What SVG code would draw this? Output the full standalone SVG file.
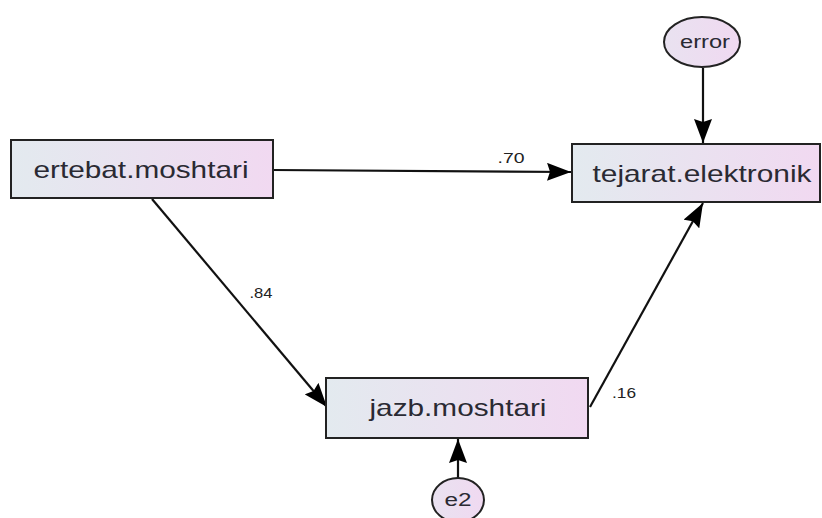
<svg xmlns="http://www.w3.org/2000/svg" width="822" height="518" viewBox="0 0 822 518">
<defs>
<linearGradient id="g" x1="0" y1="0" x2="1" y2="0">
<stop offset="0" stop-color="#e3eaef"/>
<stop offset="1" stop-color="#f1d9f1"/>
</linearGradient>
<linearGradient id="ge" x1="0" y1="0" x2="1" y2="0">
<stop offset="0" stop-color="#e9e2f0"/>
<stop offset="1" stop-color="#f0d9f1"/>
</linearGradient>
<marker id="b" viewBox="0 0 24 18" refX="24" refY="9" markerWidth="24" markerHeight="18" markerUnits="userSpaceOnUse" orient="auto">
<path d="M0,0 L24,9 L0,18 L3,9 z" fill="#000"/>
</marker>
<style>
.box{fill:url(#g);stroke:#222;stroke-width:2}
.ell{fill:url(#ge);stroke:#222;stroke-width:2}
.t{font-family:"Liberation Sans",Arial,sans-serif;font-size:24px;fill:#2a2a33;text-anchor:middle}
.te{font-family:"Liberation Sans",Arial,sans-serif;font-size:18px;fill:#2a2a33;text-anchor:middle}
.l{font-family:"Liberation Sans",Arial,sans-serif;font-size:14px;fill:#222;text-anchor:middle}
.c{stroke:#111;stroke-width:2.2;fill:none;marker-end:url(#b)}
</style>
</defs>
<rect width="822" height="518" fill="#fff"/>
<g id="connectors">
<line class="c" x1="273" y1="170" x2="571" y2="172"/>
<line class="c" x1="703" y1="68" x2="703" y2="143"/>
<line class="c" x1="152" y1="199" x2="327" y2="407"/>
<line class="c" x1="590" y1="407" x2="703" y2="203"/>
<line class="c" x1="458" y1="478" x2="458" y2="439"/>
<text class="l" x="511" y="163" textLength="27" lengthAdjust="spacingAndGlyphs">.70</text>
<text class="l" x="261" y="298" textLength="23" lengthAdjust="spacingAndGlyphs">.84</text>
<text class="l" x="624" y="398" textLength="24" lengthAdjust="spacingAndGlyphs">.16</text>
</g>
<g id="ertebat">
<rect class="box" x="11" y="140" width="262" height="58"/>
<text class="t" x="141" y="178" textLength="215" lengthAdjust="spacingAndGlyphs">ertebat.moshtari</text>
</g>
<g id="tejarat">
<rect class="box" x="572" y="144" width="248" height="58"/>
<text class="t" x="702" y="182" textLength="219" lengthAdjust="spacingAndGlyphs">tejarat.elektronik</text>
</g>
<g id="error">
<ellipse class="ell" cx="702" cy="42" rx="38" ry="25"/>
<text class="te" x="705" y="48" textLength="50" lengthAdjust="spacingAndGlyphs">error</text>
</g>
<g id="jazb">
<rect class="box" x="326" y="378" width="262" height="60"/>
<text class="t" x="458" y="416" textLength="177" lengthAdjust="spacingAndGlyphs">jazb.moshtari</text>
</g>
<g id="e2">
<ellipse class="ell" cx="458" cy="500" rx="26" ry="22"/>
<text class="te" x="458" y="506" textLength="27" lengthAdjust="spacingAndGlyphs">e2</text>
</g>
</svg>
